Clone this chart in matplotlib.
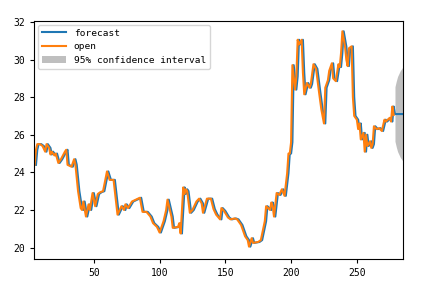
import matplotlib
matplotlib.use("Agg")
import matplotlib.pyplot as plt

plt.rcParams['font.family'] = ['DejaVu Sans Mono']

days = [5, 6, 7, 9, 11, 13, 14, 16, 17, 18, 20, 21, 23, 25, 28, 29, 30, 33, 35, 36,
        38, 40, 41, 42, 44, 46, 47, 49, 51, 53, 55, 57, 60, 62, 65, 67, 68, 71, 73, 74,
        76, 79, 82, 85, 87, 90, 93, 95, 98, 100, 103, 105, 106, 109, 110, 114, 115, 116, 118, 119,
        120, 121, 123, 125, 128, 130, 132, 133, 136, 139, 141, 143, 146, 147, 149, 152, 154, 157, 159, 162,
        165, 167, 168, 170, 171, 175, 177, 180, 181, 184, 185, 186, 187, 189, 191, 193, 195, 197, 198, 199,
        200, 201, 203, 204, 205, 206, 208, 209, 210, 212, 214, 215, 217, 219, 221, 223, 225, 226, 228, 229,
        231, 232, 234, 236, 237, 238, 239, 241, 242, 243, 244, 246, 247, 248, 250, 251, 252, 253, 255, 256,
        257, 258, 260, 261, 262, 263, 265, 267, 269, 271, 272, 275, 276, 277, 278]
open_vals = [24.4, 25.2, 25.5, 25.5, 25.4, 25.1, 25.5, 25.3, 24.95, 25.1, 24.9, 25.0, 24.5, 24.7, 25.1, 25.2, 24.4, 24.3, 24.7, 24.4,
             23.0, 22.1, 22.0, 22.45, 21.65, 22.3, 22.0, 22.9, 22.2, 22.85, 22.95, 23.0, 24.05, 23.6, 23.6, 22.4, 21.75, 22.2, 22.0, 22.3,
             22.1, 22.45, 22.55, 22.65, 21.9, 21.9, 21.65, 21.3, 21.1, 20.8, 21.4, 22.0, 22.55, 21.65, 21.05, 21.1, 21.3, 20.75, 23.2, 22.85,
             23.1, 23.0, 21.85, 22.0, 22.45, 22.6, 22.35, 21.85, 22.6, 22.6, 22.05, 21.75, 21.5, 22.1, 21.95, 21.6, 21.5, 21.55, 21.5, 21.2,
             20.6, 20.4, 20.05, 20.5, 20.25, 20.3, 20.4, 21.4, 22.2, 22.0, 22.4, 22.2, 21.65, 22.9, 22.8, 23.1, 22.75, 23.95, 25.0, 25.0,
             25.6, 29.7, 28.4, 29.1, 31.05, 30.8, 31.05, 29.3, 28.15, 28.75, 28.5, 28.7, 29.75, 29.5, 28.4, 27.35, 26.6, 28.5, 28.9, 29.4,
             29.8, 29.0, 28.85, 29.75, 29.6, 30.35, 31.5, 30.7, 30.0, 29.65, 30.6, 30.7, 28.0, 27.0, 26.8, 26.3, 26.6, 25.75, 26.1, 25.1,
             26.0, 25.4, 25.65, 25.3, 25.5, 26.45, 26.3, 26.35, 26.2, 26.8, 26.7, 26.9, 26.7, 27.5, 27.05]

# one-step-ahead model forecast, then the out-of-sample part
fc_days = [6, 7, 8, 10, 12, 14, 15, 17, 18, 19, 21, 22, 24, 26, 29, 30, 31, 34, 36, 37,
           39, 41, 42, 43, 45, 47, 48, 50, 52, 54, 56, 58, 61, 63, 66, 68, 69, 72, 74, 75,
           77, 80, 83, 86, 88, 91, 94, 96, 99, 101, 104, 106, 107, 110, 111, 115, 116, 117, 119, 120,
           121, 122, 124, 126, 129, 131, 133, 134, 137, 140, 142, 144, 147, 148, 150, 153, 155, 158, 160, 163,
           166, 168, 169, 171, 172, 176, 178, 181, 182, 185, 186, 187, 188, 190, 192, 194, 196, 198, 199, 200,
           201, 202, 204, 205, 206, 207, 209, 210, 211, 213, 215, 216, 218, 220, 222, 224, 226, 227, 229, 230,
           232, 233, 235, 237, 238, 239, 240, 242, 243, 244, 245, 247, 248, 249, 251, 252, 253, 254, 256, 257,
           258, 259, 261, 262, 263, 264, 266, 268, 270, 272, 273, 276, 277, 278, 279,
           280, 281, 282, 283, 284, 285]
fc_vals = [24.4, 25.2, 25.5, 25.5, 25.4, 25.1, 25.5, 25.3, 24.95, 25.1, 24.9, 25.0, 24.5, 24.7, 25.1, 25.2, 24.4, 24.3, 24.7, 24.4,
           23.0, 22.1, 22.0, 22.45, 21.65, 22.3, 22.0, 22.9, 22.2, 22.85, 22.95, 23.0, 24.05, 23.6, 23.6, 22.4, 21.75, 22.2, 22.0, 22.3,
           22.1, 22.45, 22.55, 22.65, 21.9, 21.9, 21.65, 21.3, 21.1, 20.8, 21.4, 22.0, 22.55, 21.65, 21.05, 21.1, 21.3, 20.75, 23.2, 22.85,
           23.1, 23.0, 21.85, 22.0, 22.45, 22.6, 22.35, 21.85, 22.6, 22.6, 22.05, 21.75, 21.5, 22.1, 21.95, 21.6, 21.5, 21.55, 21.5, 21.2,
           20.6, 20.4, 20.05, 20.5, 20.25, 20.3, 20.4, 21.4, 22.2, 22.0, 22.4, 22.2, 21.65, 22.9, 22.8, 23.1, 22.75, 23.95, 25.0, 25.0,
           25.6, 29.7, 28.4, 29.1, 31.05, 30.8, 31.05, 29.3, 28.15, 28.75, 28.5, 28.7, 29.75, 29.5, 28.4, 27.35, 26.6, 28.5, 28.9, 29.4,
           29.8, 29.0, 28.85, 29.75, 29.6, 30.35, 31.5, 30.7, 30.0, 29.65, 30.6, 30.7, 28.0, 27.0, 26.8, 26.3, 26.6, 25.75, 26.1, 25.1,
           26.0, 25.4, 25.65, 25.3, 25.5, 26.45, 26.3, 26.35, 26.2, 26.8, 26.7, 26.9, 26.7, 27.5, 27.1,
           27.1, 27.1, 27.1, 27.1, 27.1, 27.1]

# 95% confidence interval of the out-of-sample forecast
ci_days = [279, 280, 281, 282, 283, 284, 285]
ci_lower = [25.65, 25.35, 25.1, 24.95, 24.8, 24.7, 24.6]
ci_upper = [28.55, 28.85, 29.1, 29.25, 29.4, 29.5, 29.6]

fig, ax = plt.subplots(figsize=(4.36, 2.87), dpi=100)
fig.subplots_adjust(left=0.078, right=0.924, top=0.927, bottom=0.098)

ax.plot(fc_days, fc_vals, color='tab:blue', lw=1.5, label='forecast')
ax.plot(days, open_vals, color='tab:orange', lw=1.5, label='open')
ax.fill_between(ci_days, ci_lower, ci_upper, color='gray', alpha=0.5,
                lw=0, label='95% confidence interval')

ax.set_xlim(4.5, 285)
ax.set_ylim(19.4, 32.05)
ax.set_xticks([50, 100, 150, 200, 250])
ax.set_yticks([20, 22, 24, 26, 28, 30, 32])
ax.tick_params(labelsize=7, length=3)

ax.legend(loc='upper left', fontsize=6.8, handlelength=2.6, borderaxespad=0.4)

fig.savefig('out.png', dpi=100)
